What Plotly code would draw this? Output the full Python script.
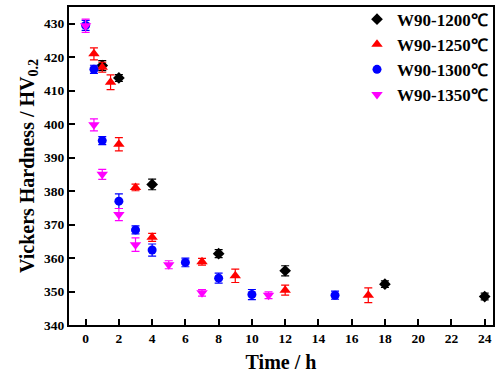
import plotly.graph_objects as go

# W90-1200
t1200 = [1, 2, 4, 8, 12, 18, 24]
hv1200 = [417.5, 413.8, 382.0, 361.3, 356.2, 352.2, 348.5]
e1200 = [1.5, 1.0, 1.6, 1.2, 1.5, 1.0, 1.0]
# W90-1250
t1250 = [0.5, 1, 1.5, 2, 3, 4, 7, 9, 12, 17]
hv1250 = [421.0, 417.0, 412.5, 394.0, 381.1, 366.2, 358.9, 354.7, 350.4, 348.9]
e1250 = [1.8, 1.5, 2.2, 2.0, 1.0, 1.2, 1.0, 2.0, 1.5, 2.2]
# W90-1300
t1300 = [0, 0.5, 1, 2, 3, 4, 6, 8, 10, 15]
hv1300 = [429.5, 416.4, 395.1, 377.0, 368.4, 362.4, 358.7, 354.0, 349.1, 348.9]
e1300 = [1.5, 1.2, 1.2, 2.2, 1.2, 1.8, 1.3, 1.5, 1.5, 1.2]
# W90-1350
t1350 = [0, 0.5, 1, 2, 3, 5, 7, 11]
hv1350 = [429.4, 399.8, 385.0, 373.0, 364.0, 358.0, 349.6, 348.9]
e1350 = [2.0, 1.8, 1.5, 1.8, 2.0, 1.2, 1.0, 1.0]

series = [
    ("W90-1200℃", t1200, hv1200, e1200, "black", "diamond", 9),
    ("W90-1250℃", t1250, hv1250, e1250, "red", "triangle-up", 10),
    ("W90-1300℃", t1300, hv1300, e1300, "blue", "circle", 9),
    ("W90-1350℃", t1350, hv1350, e1350, "magenta", "triangle-down", 10),
]

fig = go.Figure()
for name, t, v, e, c, sym, sz in series:
    fig.add_trace(go.Scatter(
        x=t, y=v, mode="markers", name=name,
        marker=dict(color=c, symbol=sym, size=sz),
        error_y=dict(type="data", array=e, color=c, thickness=1.2, width=4),
    ))

font_serif = "Liberation Serif, Times New Roman, serif"
fig.update_layout(
    width=497, height=383,
    margin=dict(l=69, r=2, t=4, b=58),
    plot_bgcolor="white", paper_bgcolor="white",
    font=dict(family=font_serif, color="black"),
    showlegend=True,
    legend=dict(x=1.0, y=1.017, xanchor="right", yanchor="top",
                font=dict(size=17, family=font_serif, color="black", weight="bold"),
                bgcolor="rgba(0,0,0,0)", tracegroupgap=0, itemsizing="trace",
                itemwidth=30),
    xaxis=dict(range=[-1, 24.5], tickvals=list(range(0, 25, 2)),
               showline=True, linecolor="black", linewidth=2, mirror=True,
               ticks="inside", ticklen=6, tickwidth=2, tickcolor="black",
               showgrid=False, zeroline=False,
               tickfont=dict(size=13.5, family=font_serif, weight="bold"),
               title=dict(text="<b>Time / h</b>", font=dict(size=20, family=font_serif), standoff=10)),
    yaxis=dict(range=[340, 435], tickvals=list(range(340, 431, 10)),
               showline=True, linecolor="black", linewidth=2, mirror=True,
               ticks="inside", ticklen=6, tickwidth=2, tickcolor="black",
               showgrid=False, zeroline=False,
               tickfont=dict(size=13.5, family=font_serif, weight="bold"),
               title=dict(text="<b>Vickers Hardness / HV<sub>0.2</sub></b>", font=dict(size=20, family=font_serif), standoff=4)),
)
fig.write_html("out.html")
